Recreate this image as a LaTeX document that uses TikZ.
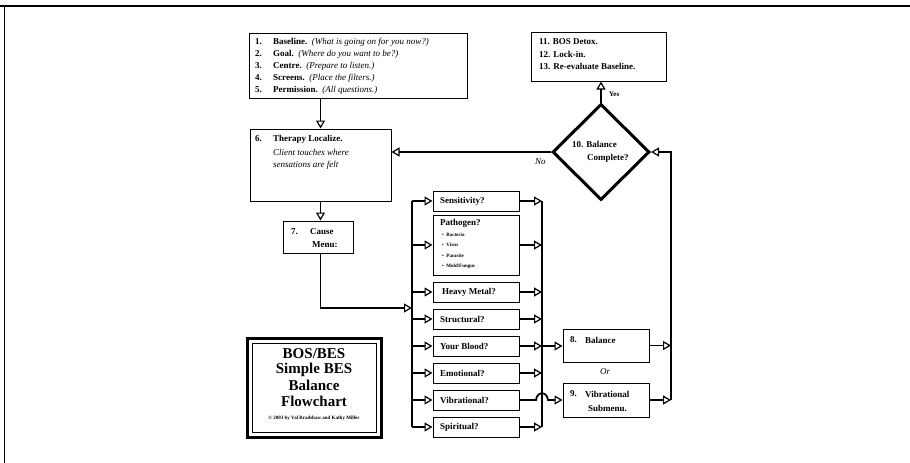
\documentclass[tikz,border=0pt]{standalone}
\usepackage{fontspec}
\setmainfont{Liberation Serif}
\usetikzlibrary{arrows.meta,shapes.geometric}
\begin{document}
\begin{tikzpicture}[x=1pt,y=-1pt,
  box/.style={draw,line width=1pt,inner sep=0pt,rectangle},
  wire/.style={line width=1.8pt},
  conn/.style={line width=1.8pt,-{Triangle[open,length=8pt,width=9pt,line width=1.2pt]}},
  txt/.style={anchor=west,inner sep=0pt,font=\fontsize{9}{10}\selectfont},
  btxt/.style={txt,font=\fontsize{9}{10}\selectfont\bfseries},
  itxt/.style={txt,font=\fontsize{9}{10}\selectfont\itshape},
  qbox/.style={box,minimum width=86pt,minimum height=20pt},
  bul/.style={anchor=west,inner sep=0pt,font=\fontsize{5}{6}\selectfont\bfseries},
  big/.style={inner sep=0pt,font=\fontsize{15}{15}\selectfont\bfseries},
]
\useasboundingbox (0,0) rectangle (910,463);
% frame
\coordinate (fTL) at (0,6);
\coordinate (fTR) at (910,6);
\coordinate (fL) at (4,6);
\coordinate (fB) at (4,463);
\draw[line width=1.5pt] (fTL) -- (fTR);
\draw[line width=1pt] (fL) -- (fB);

% box 1-5
\node[box,minimum width=218pt,minimum height=65pt] (b1) at (358,65.5) {};
\node[btxt] (n1) at (255,42) {1.};
\node[btxt] (n2) at (255,54) {2.};
\node[btxt] (n3) at (255,66) {3.};
\node[btxt] (n4) at (255,78) {4.};
\node[btxt] (n5) at (255,90) {5.};
\node[txt] (l1) at (273,42) {\textbf{Baseline.}\enspace\textit{(What is going on for you now?)}};
\node[txt] (l2) at (273,54) {\textbf{Goal.}\enspace\textit{(Where do you want to be?)}};
\node[txt] (l3) at (273,66) {\textbf{Centre.}\enspace\textit{(Prepare to listen.)}};
\node[txt] (l4) at (273,78) {\textbf{Screens.}\enspace\textit{(Place the filters.)}};
\node[txt] (l5) at (273,90) {\textbf{Permission.}\enspace\textit{(All questions.)}};

% box 11-13
\node[box,minimum width=135pt,minimum height=49pt] (b11) at (598.5,56.5) {};
\node[btxt] (l11) at (539,42) {11. BOS Detox.};
\node[btxt] (l12) at (539,54) {12. Lock-in.};
\node[btxt] (l13) at (539,66) {13. Re-evaluate Baseline.};

% diamond
\node[draw,diamond,line width=3pt,minimum width=97pt,minimum height=96pt,inner sep=0pt] (d) at (601,152) {};
\node[btxt] (dl1) at (572,144) {10. Balance};
\node[btxt] (dl2) at (587,158) {Complete?};
\draw[conn] (d.north) -- (d.north |- b11.south);
\node[txt,font=\fontsize{7}{8}\selectfont\bfseries] (yes) at (609,94) {Yes};

% box 6
\node[box,minimum width=141pt,minimum height=72pt] (b6) at (320.5,165) {};
\node[btxt] (n6) at (255,139) {6.};
\node[btxt] (l6a) at (273,139) {Therapy Localize.};
\node[itxt] (l6b) at (273,152) {Client touches where};
\node[itxt] (l6c) at (273,165) {sensations are felt};
\draw[conn] (b6.north |- b1.south) -- (b6.north);
\draw[conn] (d.west) -- (d.west -| b6.east);
\node[itxt] (no) at (535,162) {No};

% box 7
\node[box,minimum width=70pt,minimum height=32pt] (b7) at (318,237) {};
\node[btxt] (n7) at (291,232) {7.};
\node[btxt] (l7a) at (310,232) {Cause};
\node[btxt] (l7b) at (312,245) {Menu:};
\draw[conn] (b6.south) -- (b6.south |- b7.north);

% question column
\node[qbox] (sens) at (476,201) {};
\node[box,minimum width=86pt,minimum height=60pt] (path) at (476,245) {};
\node[qbox] (heavy) at (476,292) {};
\node[qbox] (struct) at (476,319) {};
\node[qbox] (blood) at (476,346) {};
\node[qbox] (emot) at (476,373) {};
\node[qbox] (vib) at (476,400) {};
\node[qbox] (spir) at (476,427) {};
\node[btxt] (tsens) at (440,201) {Sensitivity?};
\node[btxt] (tpath) at (440,223) {Pathogen?};
\node[bul] (p1) at (442,235) {\textbullet\ \ Bacteria};
\node[bul] (p2) at (442,245) {\textbullet\ \ Virus};
\node[bul] (p3) at (442,256) {\textbullet\ \ Parasite};
\node[bul] (p4) at (442,266) {\textbullet\ \ Mold/Fungus};
\node[btxt] (theavy) at (442,292) {Heavy Metal?};
\node[btxt] (tstruct) at (440,319) {Structural?};
\node[btxt] (tblood) at (440,346) {Your Blood?};
\node[btxt] (temot) at (440,373) {Emotional?};
\node[btxt] (tvib) at (440,400) {Vibrational?};
\node[btxt] (tspir) at (440,427) {Spiritual?};

% left bus
\coordinate (Ltop) at (412,201);
\coordinate (Lbot) at (412,427);
\coordinate (cm) at (412,308);
\draw[wire] (Ltop) -- (Lbot);
\draw[conn] (b6.south |- b7.south) |- (cm);
\foreach \n in {sens,path,heavy,struct,blood,emot,vib,spir}
  \draw[conn] (\n.west -| Ltop) -- (\n.west);

% right bus
\coordinate (Rtop) at (542,201);
\coordinate (Rbot) at (542,427);
\draw[wire] (Rtop) -- (Rbot);
\foreach \n in {sens,path,heavy,struct,blood,emot,spir}
  \draw[conn] (\n.east) -- (\n.east -| Rtop);

% boxes 8, 9
\node[box,minimum width=86pt,minimum height=33pt] (b8) at (606,345.5) {};
\node[btxt] (n8) at (570,340) {8.};
\node[btxt] (l8) at (585,340) {Balance};
\node[itxt] (or) at (600,372) {Or};
\node[box,minimum width=86pt,minimum height=34pt] (b9) at (606,400) {};
\node[btxt] (n9) at (570,394) {9.};
\node[btxt] (l9a) at (585,394) {Vibrational};
\node[btxt] (l9b) at (588,408) {Submenu.};

\draw[conn] (blood.east -| Rtop) -- (blood.east -| b8.west);
\draw[conn] (vib.east) -- (536,400) .. controls (537,391) and (547,391) .. (548,400) -- (b9.west);

% far right bus
\coordinate (RR) at (671,152);
\draw[conn] (b9.east -| RR) -- (RR) -- (d.east);
\draw[conn] (b8.east) -- (b8.east -| RR);
\draw[conn] (b9.east) -- (b9.east -| RR);

% title box
\node[box,line width=3pt,minimum width=134pt,minimum height=99pt] (bos) at (314,387.5) {};
\node[box,line width=0.6pt,minimum width=124pt,minimum height=89pt] (bosin) at (314,387.5) {};
\node[big] (t1) at (314,354) {BOS/BES};
\node[big] (t2) at (314,370) {Simple BES};
\node[big] (t3) at (314,385) {Balance};
\node[big] (t4) at (314,401) {Flowchart};
\node[inner sep=0pt,font=\fontsize{5}{6}\selectfont\bfseries] (t5) at (314,418) {\textcopyright\ 2003 by Val Bradshaw and Kathy Miller};
\end{tikzpicture}
\end{document}
